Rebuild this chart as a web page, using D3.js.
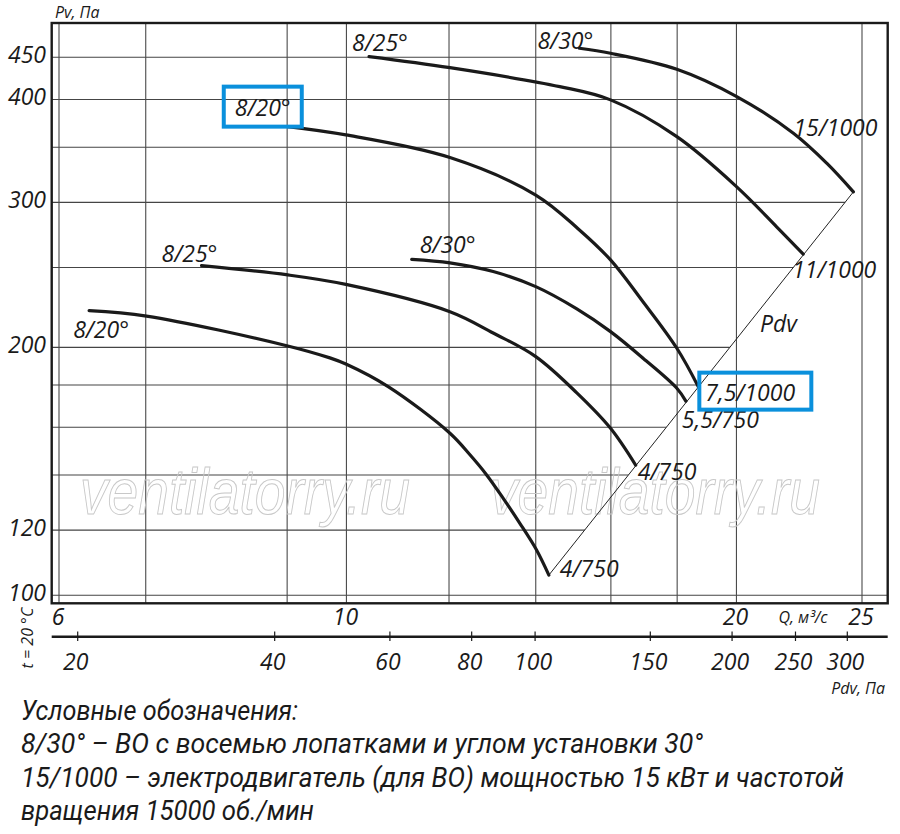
<!DOCTYPE html>
<html>
<head>
<meta charset="utf-8">
<script src="https://cdn.jsdelivr.net/npm/d3@7"></script>
<style>
body { margin: 0; background: #fff; }
text { font-family: "Open Sans", "DejaVu Sans", sans-serif; font-style: italic; fill: #1a1a1a; }
.legend { font-family: "Liberation Sans Narrow", "Roboto", sans-serif; font-size: 27px; }
</style>
</head>
<body>
<svg class="graph" width="900" height="834"></svg>
<script>
var qGrid = [6, 7, 9, 10, 12, 14, 16, 18, 20, 25];
var qLabels = [6, 10, 20, 25];
var pvGrid = [100, 120, 140, 160, 180, 200, 250, 300, 350, 400, 450];
var pvLabels = [100, 120, 200, 300, 400, 450];
var pdvTicks = [20, 40, 60, 80, 100, 150, 200, 250, 300];

// [Q m3/s, Pv Pa]
var low20 = [[6.33, 221.6], [7.01, 218.3], [9.01, 200.8], [9.71, 194.2], [9.99, 190.9], [10.77, 179.2], [12.02, 157.3], [12.46, 148.0], [12.83, 140.0], [13.21, 131.2], [13.61, 122.3], [14.02, 113.5], [14.33, 105.8]];
var low25 = [[7.73, 251.3], [9.01, 244.9], [9.99, 238.5], [12.02, 221.0], [12.98, 208.2], [14.00, 194.9], [15.06, 176.1], [15.99, 159.5], [16.72, 143.9]];
var low30 = [[11.23, 255.8], [12.02, 253.3], [12.98, 247.2], [14.00, 237.0], [15.06, 222.7], [15.99, 209.0], [16.95, 193.9], [17.99, 178.4], [18.28, 172.1]];
var high20 = [[9.01, 370.7], [9.99, 362.2], [12.02, 340.0], [14.00, 306.2], [15.10, 278.5], [15.99, 255.4], [16.90, 228.3], [17.99, 199.5], [18.69, 179.2]];
var high25 = [[10.41, 450.8], [12.02, 437.1], [14.61, 414.6], [15.99, 399.5], [17.99, 360.5], [20.01, 313.3], [21.48, 280.2], [22.52, 259.6]];
var high30 = [[15.13, 461.5], [15.99, 455.1], [17.99, 435.2], [20.01, 403.2], [22.13, 363.9], [23.48, 334.7], [24.62, 308.9]];
var pdvLine = [[14.33, 105.8], [24.62, 308.9]];

var series = [low20, low25, low30, high20, high25, high30];
var bladeNames = ['8/20°', '8/25°', '8/30°', '8/20°', '8/25°', '8/30°'];
var motorNames = ['4/750', '4/750', '5,5/750', '7,5/1000', '11/1000', '15/1000'];

var legendLines = [
    'Условные обозначения:',
    '8/30° – ВО с восемью лопатками и углом установки 30°',
    '15/1000 – электродвигатель (для ВО) мощностью 15 кВт и частотой',
    'вращения 15000 об./мин'
];

// layout
var frame = { l: 51.7, t: 23, r: 887.7, b: 603.3 };
var bladeOffset = [[-16, 27], [-40, -4], [8, -6], [-53, -11], [-17, -6], [-42, 1]];
var motorOffset = [[11, 2], [2, 15], [-4, 27], [7, 14], [-11, 24], [-60, -56]];
var legendWidth = [277, 682, 823, 293];

var x = d3.scaleLog().domain([6, 25]).range([59, 862]);
var y = d3.scaleLog().domain([100, 450]).range([595.3, 57.3]);
var xPdv = d3.scaleLog().domain([20, 300]).range([77.7, 847.3]);

var line = d3.line()
    .x(function(d){ return x(d[0]); })
    .y(function(d){ return y(d[1]); })
    .curve(d3.curveCatmullRom.alpha(0.5));

var svg = d3.select('.graph');

// horizontal grid stops at the 15/1000 curve and the Pdv line
var fStart = high30[0];
var low = pdvLine[0];
var clipD = 'M' + frame.l + ',' + frame.t
    + 'L' + x(fStart[0]) + ',' + frame.t
    + 'L' + line(high30).slice(1)
    + 'L' + x(low[0]) + ',' + y(low[1])
    + 'L' + x(low[0]) + ',' + (y(low[1]) + 10)
    + 'L' + frame.r + ',' + (y(low[1]) + 10)
    + 'L' + frame.r + ',' + frame.b
    + 'L' + frame.l + ',' + frame.b + 'Z';

svg.append('clipPath').attr('id', 'gridClip')
    .append('path').attr('d', clipD);

svg.append('g').attr('clip-path', 'url(#gridClip)')
    .selectAll('line')
    .data(pvGrid)
    .enter()
    .append('line')
    .attr('x1', frame.l)
    .attr('x2', frame.r)
    .attr('y1', function(d){ return y(d); })
    .attr('y2', function(d){ return y(d); })
    .style('stroke', '#454545')
    .style('stroke-width', 1.1);

svg.append('g').selectAll('line')
    .data(qGrid)
    .enter()
    .append('line')
    .attr('x1', function(d){ return x(d); })
    .attr('x2', function(d){ return x(d); })
    .attr('y1', frame.t)
    .attr('y2', frame.b)
    .style('stroke', '#4a4a4a')
    .style('stroke-width', 1.1);

// watermark
svg.append('g').selectAll('text')
    .data([80, 490])
    .enter()
    .append('text')
    .attr('x', function(d){ return d; })
    .attr('y', 514)
    .attr('textLength', 330)
    .attr('lengthAdjust', 'spacingAndGlyphs')
    .text('ventilatorry.ru')
    .style('font-family', '"Liberation Sans", sans-serif')
    .style('font-size', '64px')
    .style('fill', 'none')
    .style('stroke', '#c8c8c8')
    .style('stroke-width', 1);

svg.append('rect')
    .attr('x', frame.l)
    .attr('y', frame.t)
    .attr('width', frame.r - frame.l)
    .attr('height', frame.b - frame.t)
    .style('fill', 'none')
    .style('stroke', '#1a1a1a')
    .style('stroke-width', 2.4);

svg.append('path')
    .attr('d', d3.line().x(function(d){ return x(d[0]); }).y(function(d){ return y(d[1]); })(pdvLine))
    .style('fill', 'none')
    .style('stroke', '#222')
    .style('stroke-width', 1);

svg.append('g').selectAll('path')
    .data(series)
    .enter()
    .append('path')
    .attr('d', function(d){ return line(d); })
    .style('fill', 'none')
    .style('stroke', '#1a1a1a')
    .style('stroke-width', 3.2)
    .style('stroke-linecap', 'round');

// axis labels
svg.append('g').selectAll('text')
    .data(pvLabels)
    .enter()
    .append('text')
    .attr('x', 46)
    .attr('y', function(d){ return y(d) + 5.5; })
    .attr('text-anchor', 'end')
    .style('font-size', '23px')
    .text(function(d){ return d; });

svg.append('g').selectAll('text')
    .data(qLabels)
    .enter()
    .append('text')
    .attr('x', function(d){ return x(d) - 1; })
    .attr('y', 625)
    .attr('text-anchor', 'middle')
    .style('font-size', '23px')
    .text(function(d){ return d; });

svg.append('line')
    .attr('x1', frame.l)
    .attr('x2', frame.r)
    .attr('y1', 636.7)
    .attr('y2', 636.7)
    .style('stroke', '#1a1a1a')
    .style('stroke-width', 2.4);

svg.append('g').selectAll('line')
    .data(pdvTicks)
    .enter()
    .append('line')
    .attr('x1', function(d){ return xPdv(d); })
    .attr('x2', function(d){ return xPdv(d); })
    .attr('y1', 631.5)
    .attr('y2', 641)
    .style('stroke', '#1a1a1a')
    .style('stroke-width', 1.2);

svg.append('g').selectAll('text')
    .data(pdvTicks)
    .enter()
    .append('text')
    .attr('x', function(d){ return xPdv(d) - 2; })
    .attr('y', 670)
    .attr('text-anchor', 'middle')
    .style('font-size', '23px')
    .text(function(d){ return d; });

svg.append('text').attr('x', 55).attr('y', 18).style('font-size', '16px').text('Pv, Па');
svg.append('text').attr('x', 803).attr('y', 623).attr('text-anchor', 'middle').style('font-size', '16px').text('Q, м³/с');
svg.append('text').attr('x', 885).attr('y', 694).attr('text-anchor', 'end').style('font-size', '16px').text('Pdv, Па');
svg.append('text')
    .attr('transform', 'translate(33,638) rotate(-90)')
    .attr('text-anchor', 'middle')
    .style('font-size', '16px')
    .text('t = 20 °C');

// curve labels
svg.append('g').selectAll('text')
    .data(series)
    .enter()
    .append('text')
    .attr('x', function(d, i){ return x(d[0][0]) + bladeOffset[i][0]; })
    .attr('y', function(d, i){ return y(d[0][1]) + bladeOffset[i][1]; })
    .style('font-size', '23px')
    .text(function(d, i){ return bladeNames[i]; });

svg.append('g').selectAll('text')
    .data(series)
    .enter()
    .append('text')
    .attr('x', function(d, i){ var e = d[d.length - 1]; return x(e[0]) + motorOffset[i][0]; })
    .attr('y', function(d, i){ var e = d[d.length - 1]; return y(e[1]) + motorOffset[i][1]; })
    .style('font-size', '23px')
    .text(function(d, i){ return motorNames[i]; });

// highlight boxes
var h20s = high20[0], h20e = high20[high20.length - 1];
svg.append('rect')
    .attr('x', x(h20s[0]) + bladeOffset[3][0] - 11)
    .attr('y', y(h20s[1]) + bladeOffset[3][1] - 29)
    .attr('width', 78)
    .attr('height', 40)
    .style('fill', 'none')
    .style('stroke', '#0a90dc')
    .style('stroke-width', 4);
svg.append('rect')
    .attr('x', x(h20e[0]) + motorOffset[3][0] - 6)
    .attr('y', y(h20e[1]) + motorOffset[3][1] - 28)
    .attr('width', 112)
    .attr('height', 37)
    .style('fill', 'none')
    .style('stroke', '#0a90dc')
    .style('stroke-width', 4);

var pHi = pdvLine[1];
svg.append('text')
    .attr('x', x(low[0]) + (x(pHi[0]) - x(low[0])) * 0.634 + 18)
    .attr('y', y(low[1]) + (y(pHi[1]) - y(low[1])) * 0.634)
    .style('font-size', '23px')
    .text('Pdv');

svg.append('g').selectAll('text')
    .data(legendLines)
    .enter()
    .append('text')
    .attr('class', 'legend')
    .attr('x', 21)
    .attr('y', function(d, i){ return 720 + i * 33.4; })
    .attr('textLength', function(d, i){ return legendWidth[i]; })
    .attr('lengthAdjust', 'spacingAndGlyphs')
    .text(function(d){ return d; });
</script>
</body>
</html>
